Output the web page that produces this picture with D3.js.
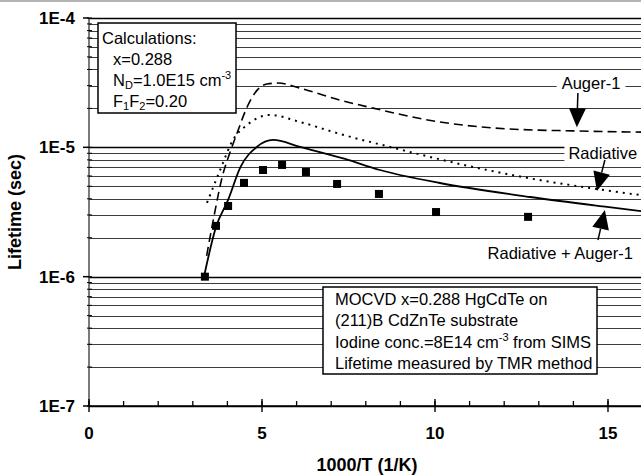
<!DOCTYPE html>
<html><head><meta charset="utf-8">
<script src="https://cdn.jsdelivr.net/npm/d3@7"></script>
<style>body{margin:0;background:#fff}svg{display:block}text{font-family:"Liberation Sans",Arial,sans-serif}</style>
</head><body><div id="chart"></div>
<script>
// ---- data ----
const measuredX = [3.35, 3.67, 4.02, 4.48, 5.03, 5.58, 6.27, 7.17, 8.38, 10.03, 12.69];
const measuredY = [1.0e-6, 2.47e-6, 3.52e-6, 5.31e-6, 6.68e-6, 7.31e-6, 6.45e-6, 5.21e-6, 4.36e-6, 3.16e-6, 2.9e-6];

const totalX = [3.32, 3.67, 4.02, 4.38, 4.85, 5.32, 6.10, 7.40, 8.41, 10.14, 12.75, 14.97, 16.0];
const totalY = [0.99e-6, 2.42e-6, 3.92e-6, 7.05e-6, 1.007e-5, 1.14e-5, 1.007e-5, 8.13e-6, 6.68e-6, 5.3e-6, 4.13e-6, 3.46e-6, 3.2e-6];

const radX = [3.41, 3.79, 4.16, 4.57, 5.23, 6.10, 7.25, 8.70, 11.10, 13.03, 14.48, 16.0];
const radY = [3.72e-6, 6.68e-6, 1.14e-5, 1.49e-5, 1.78e-5, 1.57e-5, 1.27e-5, 1.007e-5, 7.05e-6, 5.58e-6, 4.85e-6, 4.25e-6];

const augerX = [3.40, 3.62, 3.85, 4.07, 4.28, 4.57, 4.86, 5.14, 5.46, 6.10, 7.25, 8.21, 10.14, 12.08, 13.99, 16.0];
const augerY = [1.45e-6, 3.0e-6, 5.9e-6, 9.04e-6, 1.29e-5, 2.05e-5, 2.77e-5, 3.09e-5, 3.14e-5, 2.87e-5, 2.32e-5, 2.01e-5, 1.57e-5, 1.39e-5, 1.34e-5, 1.31e-5];

const xTicks = [0, 5, 10, 15];
const xMinorTicks = d3.range(0, 17, 1);
const yTicks = [1e-7, 1e-6, 1e-5, 1e-4];
const yTickLabels = ["1E-7", "1E-6", "1E-5", "1E-4"];

const calcLines = ["Calculations:", "x=0.288", "ND", "F1F2"];
const sampleLines = ["MOCVD x=0.288 HgCdTe on", "(211)B CdZnTe substrate", "IODINE", "Lifetime measured by TMR method"];

// annotation anchors in data units: [label, labelX, labelY, arrowFromX, arrowFromY, arrowToX, arrowToY]
const annotAuger = ["Auger-1", 14.51, 3.14e-5, 14.13, 2.63e-5, 14.1, 1.43e-5];
const annotRad = ["Radiative", 14.85, 9.04e-6, 14.91, 7.98e-6, 14.68, 4.59e-6];
const annotTot = ["Radiative + Auger-1", 13.62, 1.52e-6, 14.71, 1.92e-6, 14.91, 3.27e-6];

// ---- layout ----
const W = 641, H = 476;
const svg = d3.select("#chart").append("svg").attr("width", W).attr("height", H);

const x = d3.scaleLinear().domain([0, 16]).range([89, 89 + 16 * 34.6]);
const y = d3.scaleLog().domain([1e-7, 1e-4]).range([406, 18]);

// scan border line at top
svg.append("line").attr("x1", 0).attr("x2", W).attr("y1", 1).attr("y2", 1)
  .attr("stroke", "#b4b4b4").attr("stroke-width", 2);

// gridlines
const gridVals = [];
[1e-7, 1e-6, 1e-5].forEach(d => { for (let k = 1; k <= 9; k++) gridVals.push(d * k); });
gridVals.push(1e-4);
const isMajor = d => yTicks.some(t => Math.abs(t - d) / t < 1e-6);
const g = svg.append("g");
g.selectAll("line.grid").data(gridVals).join("line")
  .attr("x1", x(0)).attr("x2", W)
  .attr("y1", d => Math.round(y(d)) + 0.5).attr("y2", d => Math.round(y(d)) + 0.5)
  .attr("stroke", d => isMajor(d) ? "#000" : "#3c3c3c")
  .attr("stroke-width", d => isMajor(d) ? 1.6 : 1);

// y axis
g.append("line").attr("x1", x(0)).attr("x2", x(0)).attr("y1", y(1e-4)).attr("y2", y(1e-7))
  .attr("stroke", "#333").attr("stroke-width", 1.3);
g.selectAll("line.ymaj").data(yTicks).join("line")
  .attr("x1", x(0) - 6).attr("x2", x(0)).attr("y1", d => y(d)).attr("y2", d => y(d))
  .attr("stroke", "#000").attr("stroke-width", 1.5);
g.selectAll("line.ymin").data(gridVals).join("line")
  .attr("x1", x(0) - 2).attr("x2", x(0) + 3).attr("y1", d => y(d)).attr("y2", d => y(d))
  .attr("stroke", "#000").attr("stroke-width", 1);
g.selectAll("text.ylab").data(yTicks).join("text")
  .attr("x", 75).attr("y", d => y(d) + 6)
  .attr("text-anchor", "end").attr("font-size", 17).attr("font-weight", "bold")
  .text((d, i) => yTickLabels[i]);

// x axis
g.append("line").attr("x1", x(0)).attr("x2", W).attr("y1", y(1e-7)).attr("y2", y(1e-7))
  .attr("stroke", "#000").attr("stroke-width", 1.6);
g.selectAll("line.xmin").data(xMinorTicks).join("line")
  .attr("x1", d => x(d)).attr("x2", d => x(d)).attr("y1", y(1e-7) - 5).attr("y2", y(1e-7))
  .attr("stroke", "#000").attr("stroke-width", 1.3);
g.selectAll("line.xmaj").data(xTicks).join("line")
  .attr("x1", d => x(d)).attr("x2", d => x(d)).attr("y1", y(1e-7) - 7).attr("y2", y(1e-7) + 6)
  .attr("stroke", "#000").attr("stroke-width", 1.4);
g.selectAll("text.xlab").data(xTicks).join("text")
  .attr("x", d => x(d)).attr("y", 439)
  .attr("text-anchor", "middle").attr("font-size", 17).attr("font-weight", "bold")
  .text(d => d);

// axis titles
svg.append("text").attr("x", 367).attr("y", 471).attr("text-anchor", "middle")
  .attr("font-size", 18).attr("font-weight", "bold").text("1000/T (1/K)");
svg.append("text").attr("transform", "translate(21,212) rotate(-90)").attr("text-anchor", "middle")
  .attr("font-size", 18).attr("font-weight", "bold").text("Lifetime (sec)");

// curves
const line = d3.line().x(d => x(d[0])).y(d => y(d[1])).curve(d3.curveMonotoneX);
const zip = (a, b) => a.map((v, i) => [v, b[i]]);
const plot = svg.append("g");
plot.append("path").attr("d", line(zip(augerX, augerY))).attr("fill", "none")
  .attr("stroke", "#000").attr("stroke-width", 1.6).attr("stroke-dasharray", "9,5");
plot.append("path").attr("d", line(zip(radX, radY))).attr("fill", "none")
  .attr("stroke", "#000").attr("stroke-width", 2).attr("stroke-dasharray", "2,5");
plot.append("path").attr("d", line(zip(totalX, totalY))).attr("fill", "none")
  .attr("stroke", "#000").attr("stroke-width", 1.8);

// measured points
plot.selectAll("rect.pt").data(zip(measuredX, measuredY)).join("rect")
  .attr("x", d => x(d[0]) - 4).attr("y", d => y(d[1]) - 4)
  .attr("width", 8).attr("height", 8).attr("fill", "#000");

// annotations
function annotate(a, bgPad) {
  const [label, lx, ly, fx, fy, tx, ty] = a;
  const t = svg.append("text").attr("x", x(lx)).attr("y", y(ly) + 6)
    .attr("text-anchor", "middle").attr("font-size", 16.5).text(label);
  const bb = t.node().getBBox();
  svg.insert("rect", () => t.node()).attr("x", bb.x - bgPad).attr("y", bb.y + 2)
    .attr("width", bb.width + 2 * bgPad).attr("height", bb.height - 3).attr("fill", "#fff");
  const x1 = x(fx), y1 = y(fy), x2 = x(tx), y2 = y(ty);
  const ang = Math.atan2(y2 - y1, x2 - x1);
  const hl = 19, hw = 8.5;
  const bx = x2 - hl * Math.cos(ang), by = y2 - hl * Math.sin(ang);
  svg.append("line").attr("x1", x1).attr("y1", y1).attr("x2", bx).attr("y2", by)
    .attr("stroke", "#000").attr("stroke-width", 1.5);
  const px = -Math.sin(ang) * hw, py = Math.cos(ang) * hw;
  svg.append("path").attr("d", `M${x2},${y2}L${bx + px},${by + py}L${bx - px},${by - py}Z`).attr("fill", "#000");
}
annotate(annotAuger, 5);
annotate(annotRad, 4);
annotate(annotTot, 2);

// Calculations box
const cb = svg.append("g");
cb.append("rect").attr("x", 98).attr("y", 23).attr("width", 138).attr("height", 90)
  .attr("fill", "#fff").attr("stroke", "#000").attr("stroke-width", 1.5);
const cy0 = 44, cdy = 21;
cb.append("text").attr("x", 102).attr("y", cy0).attr("font-size", 16.5).text(calcLines[0]);
cb.append("text").attr("x", 113).attr("y", cy0 + cdy).attr("font-size", 16.5).text(calcLines[1]);
const nd = cb.append("text").attr("x", 113).attr("y", cy0 + 2 * cdy).attr("font-size", 16.5);
nd.append("tspan").text("N");
nd.append("tspan").attr("font-size", 11).attr("dy", 3).text("D");
nd.append("tspan").attr("dy", -3).text("=1.0E15 cm");
nd.append("tspan").attr("font-size", 11).attr("dy", -7).text("-3");
const ff = cb.append("text").attr("x", 113).attr("y", cy0 + 3 * cdy).attr("font-size", 16.5);
ff.append("tspan").text("F");
ff.append("tspan").attr("font-size", 11).attr("dy", 3).text("1");
ff.append("tspan").attr("dy", -3).text("F");
ff.append("tspan").attr("font-size", 11).attr("dy", 3).text("2");
ff.append("tspan").attr("dy", -3).text("=0.20");

// Sample box
const sb = svg.append("g");
sb.append("rect").attr("x", 323).attr("y", 287).attr("width", 274).attr("height", 87)
  .attr("fill", "#fff").attr("stroke", "#000").attr("stroke-width", 1.5);
const sy0 = 305, sdy = 21.3;
sb.append("text").attr("x", 335).attr("y", sy0).attr("font-size", 16.5).text(sampleLines[0]);
sb.append("text").attr("x", 335).attr("y", sy0 + sdy).attr("font-size", 16.5).text(sampleLines[1]);
const io = sb.append("text").attr("x", 335).attr("y", sy0 + 2 * sdy).attr("font-size", 16.5);
io.append("tspan").text("Iodine conc.=8E14 cm");
io.append("tspan").attr("font-size", 11).attr("dy", -7).text("-3");
io.append("tspan").attr("dy", 7).text(" from SIMS");
sb.append("text").attr("x", 335).attr("y", sy0 + 3 * sdy).attr("font-size", 16.5).text(sampleLines[3]);
</script></body></html>
